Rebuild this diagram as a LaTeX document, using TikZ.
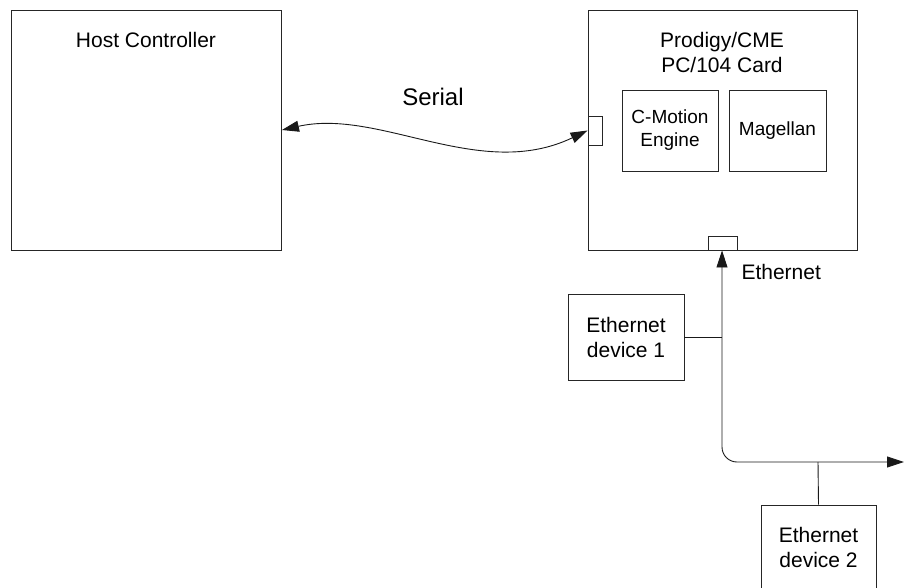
\documentclass[tikz,border=0pt]{standalone}
\usepackage{fontspec}
\setmainfont{Liberation Sans}
\usetikzlibrary{arrows.meta}
\begin{document}
\begin{tikzpicture}[x=1pt,y=-1pt,
  box/.style={draw=black!85, line width=0.9pt, inner sep=0pt, align=center},
  big/.style={font=\fontsize{21}{25}\selectfont},
  mid/.style={font=\fontsize{19}{23}\selectfont},
  conn/.style={draw=black!90, line width=0.9pt},
  ah/.tip={Triangle[length=17pt,width=11pt]},
]
\useasboundingbox (0,0) rectangle (904,588);
\clip (0,0) rectangle (904,588);
% Host controller
\node[box, minimum width=270pt, minimum height=240pt] (host) at (146.5,130) {};
\node[big, anchor=center] (hostlabel) at (146,40) {Host Controller};
% Prodigy card
\node[box, minimum width=269pt, minimum height=240pt] (card) at (722.5,130) {};
\node[big, align=center] (cardlabel) at (722,52) {Prodigy/CME\\PC/104 Card};
\node[box, mid, minimum width=96pt, minimum height=81pt] (cme) at (670,130.5) {C-Motion\\Engine};
\node[box, mid, minimum width=97pt, minimum height=81pt] (mag) at (777.5,130.5) {Magellan};
\node[box, minimum width=14pt, minimum height=29pt] (sport) at (595,130.5) {};
\node[box, minimum width=29pt, minimum height=14pt] (eport) at (722.5,243) {};
% Serial link
\draw[conn, ah-ah]
  (host.east) .. controls (380,108) and (480,182) .. (sport.west);
\node[font=\fontsize{24}{28}\selectfont] (seriallabel) at (433,97) {Serial};
% Ethernet
\node[big, anchor=west] (ethlabel) at (738,272) {Ethernet};
\node[box, big, minimum width=116pt, minimum height=86pt] (dev1) at (626,337) {Ethernet\\device 1};
\node[box, big, minimum width=115pt, minimum height=84pt] (dev2) at (818.5,547) {Ethernet\\device 2};
\coordinate (corner) at (722,462);
\coordinate (busend) at (904,462);
\coordinate (j1) at (722,337);
\coordinate (j2) at (818,462);
\draw[conn, ah-ah, rounded corners=15pt]
  (eport.south -| corner) -- (corner) -- (busend);
\draw[conn] (dev1.east) -- (j1);
\draw[conn] (dev2.north) -- (j2);
\end{tikzpicture}
\end{document}
